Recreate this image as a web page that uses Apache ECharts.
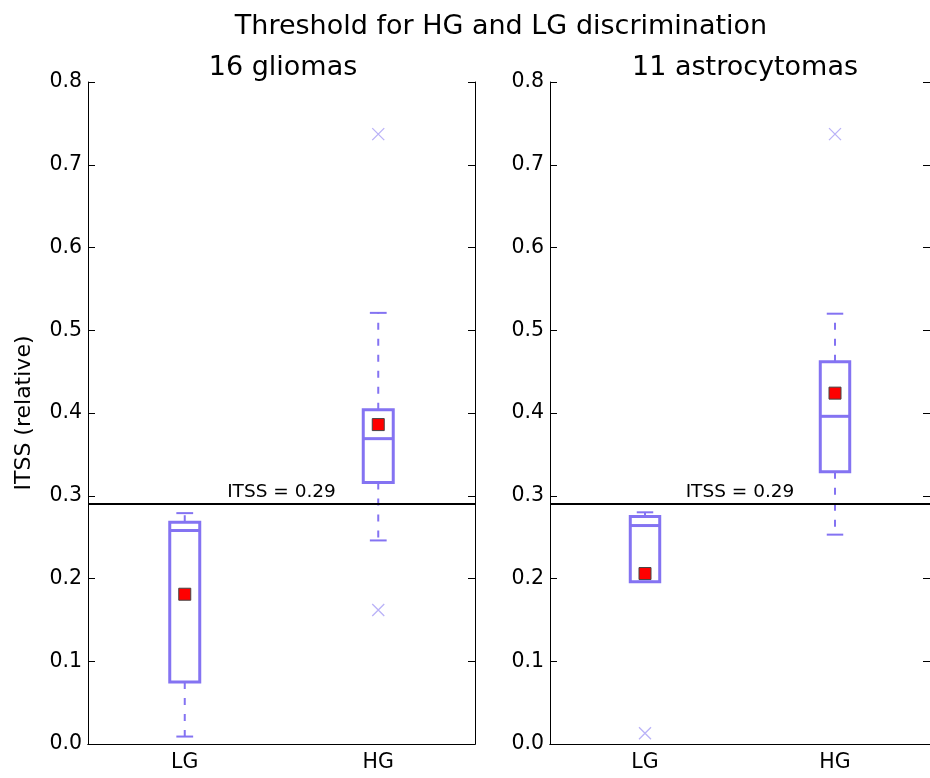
<!DOCTYPE html>
<html>
<head>
<meta charset="utf-8">
<script src="https://cdn.jsdelivr.net/npm/echarts@6/dist/echarts.min.js"></script>
<style>
  html, body { margin: 0; padding: 0; background: #fff; }
  #chart { width: 930px; height: 778px; }
</style>
</head>
<body>
<div id="chart"></div>
<script>
// data
const categories = ["LG", "HG"];
const yTicks = [0.0, 0.1, 0.2, 0.3, 0.4, 0.5, 0.6, 0.7, 0.8];
const threshold = 0.29;
const panelTitles = ["16 gliomas", "11 astrocytomas"];

// [category index, lower whisker, q1, median, q3, upper whisker]
const gliomaBoxes = [
  [0, 0.009, 0.075, 0.258, 0.268, 0.279],
  [1, 0.246, 0.316, 0.369, 0.404, 0.521]
];
const gliomaMeans = [[0, 0.181], [1, 0.386]];
const gliomaOutliers = [[1, 0.737], [1, 0.162]];

const astroBoxes = [
  [0, 0.196, 0.196, 0.264, 0.275, 0.280],
  [1, 0.253, 0.329, 0.396, 0.462, 0.520]
];
const astroMeans = [[0, 0.206], [1, 0.424]];
const astroOutliers = [[0, 0.013], [1, 0.737]];

const boxColor = "#8473f2";
const font = "DejaVu Sans";

function renderBox(params, api) {
  const x = api.value(0);
  const bw = api.size([1, 0])[0] * 0.155;
  const cw = bw * 0.28;
  const p = (v) => api.coord([x, v]);
  const lo = p(api.value(1)), q1 = p(api.value(2)), md = p(api.value(3));
  const q3 = p(api.value(4)), hi = p(api.value(5));
  const cx = lo[0];
  const solid = { stroke: boxColor, lineWidth: 3, fill: null };
  const dashed = { stroke: boxColor, lineWidth: 2, lineDash: [7, 9] };
  const cap = { stroke: boxColor, lineWidth: 2 };
  return {
    type: "group",
    children: [
      { type: "line", shape: { x1: cx, y1: q1[1], x2: cx, y2: lo[1] }, style: dashed },
      { type: "line", shape: { x1: cx, y1: q3[1], x2: cx, y2: hi[1] }, style: dashed },
      { type: "line", shape: { x1: cx - cw, y1: lo[1], x2: cx + cw, y2: lo[1] }, style: cap },
      { type: "line", shape: { x1: cx - cw, y1: hi[1], x2: cx + cw, y2: hi[1] }, style: cap },
      { type: "rect", shape: { x: cx - bw / 2, y: q3[1], width: bw, height: q1[1] - q3[1] }, style: solid },
      { type: "line", shape: { x1: cx - bw / 2, y1: md[1], x2: cx + bw / 2, y2: md[1] }, style: { stroke: boxColor, lineWidth: 3 } }
    ]
  };
}

const grids = [
  { left: 88, top: 82, width: 387, height: 662 },
  { left: 550, top: 82, width: 388, height: 662 }
];

const xAxes = [], yAxes = [], series = [];
const panels = [
  [gliomaBoxes, gliomaMeans, gliomaOutliers],
  [astroBoxes, astroMeans, astroOutliers]
];

grids.forEach((g, i) => {
  // bottom axis with labels, top axis with ticks only
  xAxes.push({
    gridIndex: i, type: "category", data: categories, position: "bottom",
    boundaryGap: true,
    axisLine: { lineStyle: { color: "#000", width: 1 } },
    axisTick: { inside: true, alignWithLabel: true, length: 7, lineStyle: { color: "#000" } },
    axisLabel: { color: "#000", fontFamily: font, fontSize: 20.5, margin: 8 }
  });
  xAxes.push({
    gridIndex: i, type: "category", data: categories, position: "top",
    boundaryGap: true,
    axisLine: { lineStyle: { color: "#000", width: 1 } },
    axisTick: { inside: true, alignWithLabel: true, length: 7, lineStyle: { color: "#000" } },
    axisLabel: { show: false }
  });
  yAxes.push({
    gridIndex: i, type: "value", min: 0, max: 0.8, interval: 0.1, position: "left",
    name: i === 0 ? "ITSS (relative)" : "",
    nameLocation: "middle", nameGap: 53,
    nameTextStyle: { color: "#000", fontFamily: font, fontSize: 22 },
    axisLine: { show: true, lineStyle: { color: "#000", width: 1 } },
    axisTick: { show: true, inside: true, length: 7, lineStyle: { color: "#000" } },
    splitLine: { show: false },
    axisLabel: {
      color: "#000", fontFamily: font, fontSize: 20.5, margin: 6,
      formatter: (v) => yTicks.find((t) => Math.abs(t - v) < 1e-9).toFixed(1)
    }
  });
  yAxes.push({
    gridIndex: i, type: "value", min: 0, max: 0.8, interval: 0.1, position: "right",
    axisLine: { show: true, lineStyle: { color: "#000", width: 1 } },
    axisTick: { show: true, inside: true, length: 7, lineStyle: { color: "#000" } },
    splitLine: { show: false },
    axisLabel: { show: false }
  });

  const [boxes, means, outliers] = panels[i];
  series.push({
    type: "custom", xAxisIndex: 2 * i, yAxisIndex: 2 * i,
    renderItem: renderBox, data: boxes,
    encode: { x: 0, y: [1, 2, 3, 4, 5] }, silent: true, z: 3,
    markLine: {
      silent: true, symbol: "none",
      lineStyle: { color: "#000", width: 2, type: "solid" },
      label: {
        show: true, position: "insideMiddleTop", formatter: "ITSS = " + threshold,
        color: "#000", fontFamily: font, fontSize: 18.5, distance: 2
      },
      data: [{ yAxis: threshold }]
    }
  });
  series.push({
    type: "scatter", xAxisIndex: 2 * i, yAxisIndex: 2 * i, data: outliers,
    symbol: "path://M0,0L10,10M10,0L0,10", symbolSize: 12, z: 4,
    itemStyle: { color: "none", borderColor: "#a79df5", borderWidth: 1.3 }
  });
  series.push({
    type: "scatter", xAxisIndex: 2 * i, yAxisIndex: 2 * i, data: means,
    symbol: "rect", symbolSize: 12, z: 5,
    itemStyle: { color: "#f00", borderColor: "#444", borderWidth: 1, opacity: 1 }
  });
});

const titleStyle = (size) => ({ color: "#000", fontFamily: font, fontSize: size, fontWeight: "normal" });

const chart = echarts.init(document.getElementById("chart"));
chart.setOption({
  animation: false,
  backgroundColor: "#fff",
  title: [
    { text: "Threshold for HG and LG discrimination", left: 496, top: 8, textAlign: "center", textStyle: titleStyle(27) },
    { text: panelTitles[0], left: 278, top: 49, textAlign: "center", textStyle: titleStyle(27) },
    { text: panelTitles[1], left: 740, top: 49, textAlign: "center", textStyle: titleStyle(27) }
  ],
  grid: grids,
  xAxis: xAxes,
  yAxis: yAxes,
  series: series
});
</script>
</body>
</html>
